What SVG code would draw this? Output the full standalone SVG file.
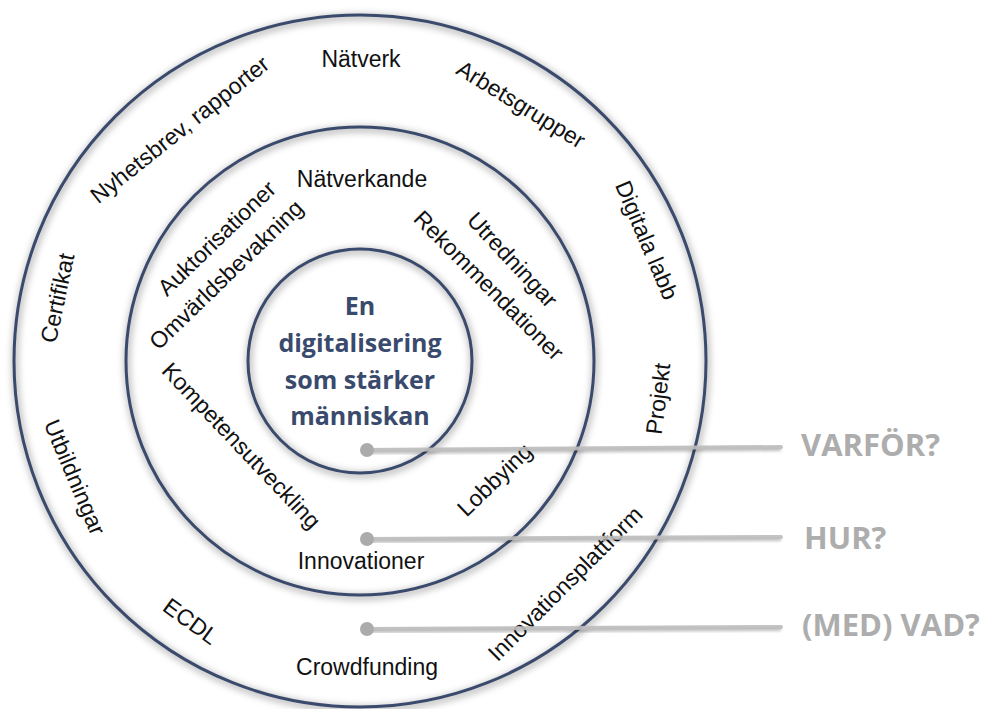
<svg xmlns="http://www.w3.org/2000/svg" width="988" height="709" viewBox="0 0 988 709">
  <defs>
    <filter id="ringShadow" x="-10%" y="-10%" width="120%" height="120%">
      <feGaussianBlur stdDeviation="3.5"/>
    </filter>
    <filter id="lineShadow" x="-5%" y="-100%" width="110%" height="300%">
      <feGaussianBlur stdDeviation="1.5"/>
    </filter>
  </defs>
  <style>
    .ring { fill: none; stroke: #3a4a6c; stroke-width: 3; }
    .ring-shade { fill: none; stroke: #000; stroke-opacity: 0.28; stroke-width: 6; }
    .lbl { font-family: "Liberation Sans", Arial, sans-serif; font-size: 23px; fill: #111; text-anchor: middle; }
    .core { font-family: "Open Sans", "Liberation Sans", sans-serif; font-weight: 700; font-size: 25px; fill: #3a4a6c; text-anchor: middle; }
    .q { font-family: "Open Sans", "Liberation Sans", sans-serif; font-weight: 700; font-size: 31px; fill: #adadad; }
    .lead { stroke: #bdbdbd; stroke-width: 4; stroke-linecap: round; }
    .lead-shade { stroke: #000; stroke-opacity: 0.25; stroke-width: 4; filter: url(#lineShadow); }
    .dot { fill: #ababab; }
  </style>

  <rect width="988" height="709" fill="#ffffff"/>

  <!-- concentric rings -->
  <g id="rings">
    <g filter="url(#ringShadow)">
      <circle class="ring-shade" cx="361" cy="363" r="346"/>
      <circle class="ring-shade" cx="361" cy="363" r="234"/>
      <circle class="ring-shade" cx="361" cy="363" r="112"/>
    </g>
    <circle id="ring-outer" class="ring" cx="360" cy="361" r="346"/>
    <circle id="ring-middle" class="ring" cx="360" cy="361" r="234"/>
    <circle id="ring-inner" class="ring" cx="360" cy="361" r="112"/>
  </g>

  <!-- core statement -->
  <g id="core">
    <text class="core" x="360" y="315">En</text>
    <text class="core" x="360" y="352">digitalisering</text>
    <text class="core" x="360" y="389">som stärker</text>
    <text class="core" x="360" y="425">människan</text>
  </g>

  <!-- outer ring: (med) vad -->
  <g id="outer-labels">
    <g id="n-natverk" transform="translate(361,58.5)"><text class="lbl" y="8">Nätverk</text></g>
    <g id="n-arbetsgrupper" transform="translate(520,106) rotate(31.5)"><text class="lbl" y="6">Arbetsgrupper</text></g>
    <g id="n-digitala-labb" transform="translate(645,241) rotate(67)"><text class="lbl" y="6">Digitala labb</text></g>
    <g id="n-projekt" transform="translate(660,399) rotate(-83)"><text class="lbl" y="6">Projekt</text></g>
    <g id="n-innovationsplattform" transform="translate(566.5,585) rotate(-45)"><text class="lbl" font-size="23.5" y="6">Innovationsplattform</text></g>
    <g id="n-crowdfunding" transform="translate(367,669)"><text class="lbl" y="6">Crowdfunding</text></g>
    <g id="n-ecdl" transform="translate(191,621) rotate(36)"><text class="lbl" y="8.3">ECDL</text></g>
    <g id="n-utbildningar" transform="translate(73,478) rotate(67)"><text class="lbl" y="6">Utbildningar</text></g>
    <g id="n-certifikat" transform="translate(57,298) rotate(-78)"><text class="lbl" y="8.3">Certifikat</text></g>
    <g id="n-nyhetsbrev" transform="translate(181,131) rotate(-38.5)"><text class="lbl" y="6">Nyhetsbrev, rapporter</text></g>
  </g>

  <!-- middle ring: hur -->
  <g id="middle-labels">
    <g id="n-natverkande" transform="translate(362,179)"><text class="lbl" y="8">Nätverkande</text></g>
    <g id="n-auktorisationer" transform="translate(216.5,238) rotate(-44)"><text class="lbl" y="8.3">Auktorisationer</text></g>
    <g id="n-omvarldsbevakning" transform="translate(227.5,276) rotate(-44)"><text class="lbl" y="6">Omvärldsbevakning</text></g>
    <g id="n-utredningar" transform="translate(511,261) rotate(47)"><text class="lbl" y="6">Utredningar</text></g>
    <g id="n-rekommendationer" transform="translate(489,285) rotate(45)"><text class="lbl" y="8.3">Rekommendationer</text></g>
    <g id="n-kompetensutveckling" transform="translate(240,447) rotate(46.5)"><text class="lbl" y="6">Kompetensutveckling</text></g>
    <g id="n-lobbying" transform="translate(496,481) rotate(-44)"><text class="lbl" y="6">Lobbying</text></g>
    <g id="n-innovationer" transform="translate(361,561)"><text class="lbl" y="8">Innovationer</text></g>
  </g>

  <!-- leader lines from each ring to its question -->
  <g id="connectors">
    <line class="lead-shade" x1="367" y1="452" x2="781" y2="449"/>
    <line class="lead-shade" x1="367" y1="541" x2="781" y2="539"/>
    <line class="lead-shade" x1="367" y1="631" x2="781" y2="629"/>
    <line class="lead" x1="367" y1="450" x2="781" y2="447" stroke-opacity="0.9"/>
    <line class="lead" x1="367" y1="539" x2="781" y2="537" stroke-opacity="0.9"/>
    <line class="lead" x1="367" y1="629" x2="781" y2="627" stroke-opacity="0.9"/>
    <circle class="dot" cx="367" cy="450" r="7"/>
    <circle class="dot" cx="367" cy="539" r="7"/>
    <circle class="dot" cx="367" cy="629" r="7"/>
  </g>

  <!-- questions -->
  <g id="questions">
    <text id="q-varfor" class="q" x="801" y="456">VARFÖR?</text>
    <text id="q-hur" class="q" x="804" y="549">HUR?</text>
    <text id="q-vad" class="q" x="802" y="636">(MED) VAD?</text>
  </g>
</svg>
